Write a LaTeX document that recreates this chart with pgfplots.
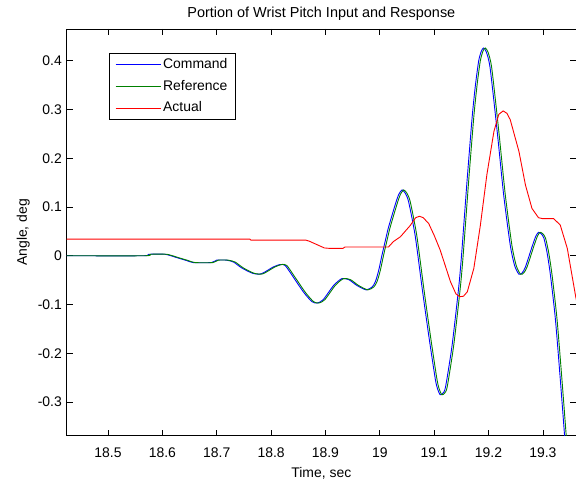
\documentclass[border=0pt]{standalone}
\usepackage{fontspec}
\setmainfont{Liberation Sans}
\usepackage{pgfplots}
\pgfplotsset{compat=1.18}
\definecolor{mblue}{rgb}{0,0,1}
\definecolor{mgreen}{rgb}{0,0.5,0}
\definecolor{mred}{rgb}{1,0,0}
\begin{document}
\fontsize{14}{16.5}\selectfont
\begin{tikzpicture}
\begin{axis}[
  scale only axis, width=509.3bp, height=406.7bp,
  xmin=18.424, xmax=19.361, ymin=-0.369, ymax=0.465,
  xtick={18.5,18.6,18.7,18.8,18.9,19.0,19.1,19.2,19.3},
  xticklabels={18.5,18.6,18.7,18.8,18.9,19,19.1,19.2,19.3},
  ytick={-0.3,-0.2,-0.1,0,0.1,0.2,0.3,0.4},
  yticklabels={-0.3,-0.2,-0.1,0,0.1,0.2,0.3,0.4},
  tick align=inside, major tick length=6bp,
  tick style={line width=0.6bp, black},
  axis line style={line width=0.8bp},
  xticklabel style={yshift=-7.5bp},
  every axis title shift=0pt,
  title={Portion of Wrist Pitch Input and Response},
  title style={at={(axis description cs:0.5,1.0369)}, anchor=center, font=\fontsize{14.5}{17}\selectfont},
  xlabel={Time, sec},
  xlabel style={at={(axis description cs:0.5,-0.0933)}, anchor=center},
  ylabel={Angle, deg},
  ylabel style={at={(axis description cs:-0.0852,0.5)}, anchor=center},
  legend style={at={(0.0831,0.9402)}, anchor=north west,
    inner xsep=6bp, inner ysep=3bp, row sep=5.5bp},
  legend cell align=left,
  legend image code/.code={\draw[#1] (0bp,0bp) -- (45bp,0bp);},
  clip=true,
]
\addplot[color=mblue, line width=0.9bp, smooth, tension=0.4] coordinates {
(18.424,0) (18.565,0) (18.575,0.003) (18.605,0.003) (18.627,-0.004) (18.645,-0.010) (18.657,-0.014) (18.690,-0.014) (18.700,-0.009) (18.718,-0.009) (18.731,-0.013) (18.746,-0.025) (18.766,-0.036) (18.782,-0.037) (18.804,-0.023) (18.817,-0.018) (18.826,-0.020) (18.841,-0.044) (18.860,-0.075) (18.875,-0.094) (18.885,-0.097) (18.896,-0.090) (18.915,-0.061) (18.930,-0.047) (18.943,-0.049) (18.958,-0.061) (18.975,-0.070) (18.986,-0.064) (18.992,-0.053) (18.998,-0.030) (19.004,0.001) (19.010,0.030) (19.016,0.058) (19.029,0.107) (19.035,0.126) (19.041,0.135) (19.047,0.128) (19.053,0.111) (19.065,0.042) (19.078,-0.067) (19.090,-0.163) (19.102,-0.252) (19.106,-0.272) (19.111,-0.285) (19.116,-0.282) (19.121,-0.269) (19.133,-0.184) (19.145,-0.067) (19.150,-0.005) (19.157,0.100) (19.161,0.160) (19.170,0.285) (19.176,0.350) (19.182,0.400) (19.187,0.420) (19.191,0.426) (19.196,0.418) (19.203,0.385) (19.216,0.255) (19.228,0.124) (19.240,0.022) (19.248,-0.020) (19.256,-0.038) (19.262,-0.035) (19.268,-0.023) (19.280,0.018) (19.287,0.040) (19.292,0.048) (19.297,0.045) (19.302,0.036) (19.308,0.005) (19.314,-0.040) (19.323,-0.129) (19.332,-0.252) (19.340,-0.369) (19.350,-0.52)
};
\addlegendentry{Command}
\addplot[color=mgreen, line width=0.9bp, smooth, tension=0.4] coordinates {
(18.424,0) (18.568,0) (18.578,0.003) (18.608,0.003) (18.630,-0.004) (18.648,-0.010) (18.660,-0.014) (18.693,-0.014) (18.703,-0.009) (18.721,-0.009) (18.734,-0.013) (18.749,-0.025) (18.769,-0.036) (18.785,-0.037) (18.807,-0.023) (18.820,-0.018) (18.829,-0.020) (18.844,-0.044) (18.863,-0.075) (18.878,-0.094) (18.888,-0.097) (18.899,-0.090) (18.918,-0.061) (18.933,-0.047) (18.946,-0.049) (18.961,-0.061) (18.978,-0.070) (18.989,-0.064) (18.995,-0.053) (19.001,-0.030) (19.007,0.001) (19.013,0.030) (19.019,0.058) (19.032,0.107) (19.038,0.126) (19.044,0.135) (19.050,0.128) (19.056,0.111) (19.068,0.042) (19.081,-0.067) (19.093,-0.163) (19.105,-0.252) (19.109,-0.272) (19.114,-0.285) (19.119,-0.282) (19.124,-0.269) (19.136,-0.184) (19.148,-0.067) (19.153,-0.005) (19.160,0.100) (19.164,0.160) (19.173,0.285) (19.179,0.350) (19.185,0.400) (19.190,0.420) (19.194,0.426) (19.199,0.418) (19.206,0.385) (19.219,0.255) (19.231,0.124) (19.243,0.022) (19.251,-0.020) (19.259,-0.038) (19.265,-0.035) (19.271,-0.023) (19.283,0.018) (19.290,0.040) (19.295,0.048) (19.300,0.045) (19.305,0.036) (19.311,0.005) (19.317,-0.040) (19.326,-0.129) (19.335,-0.252) (19.343,-0.369) (19.353,-0.52)
};
\addlegendentry{Reference}
\addplot[color=mred, line width=0.9bp] coordinates {
(18.424,0.034) (18.761,0.034) (18.763,0.032) (18.864,0.032) (18.870,0.030) (18.884,0.023) (18.898,0.016) (18.909,0.015) (18.932,0.015) (18.936,0.018) (19.016,0.018) (19.025,0.029) (19.038,0.039) (19.056,0.062) (19.066,0.078) (19.073,0.081) (19.080,0.078) (19.090,0.066) (19.100,0.042) (19.111,0.012) (19.130,-0.053) (19.140,-0.078) (19.147,-0.084) (19.154,-0.083) (19.161,-0.074) (19.167,-0.050) (19.173,-0.026) (19.185,0.062) (19.197,0.166) (19.210,0.255) (19.219,0.290) (19.227,0.297) (19.234,0.292) (19.240,0.279) (19.256,0.214) (19.268,0.145) (19.280,0.097) (19.292,0.078) (19.300,0.076) (19.320,0.076) (19.332,0.063) (19.345,0.015) (19.360,-0.081) (19.365,-0.11)
};
\addlegendentry{Actual}
\end{axis}
\pgfresetboundingbox
\path ([shift={(-66.7bp,-49.3bp)}]current axis.south west) rectangle ([shift={(0bp,29bp)}]current axis.north east);
\end{tikzpicture}
\end{document}
